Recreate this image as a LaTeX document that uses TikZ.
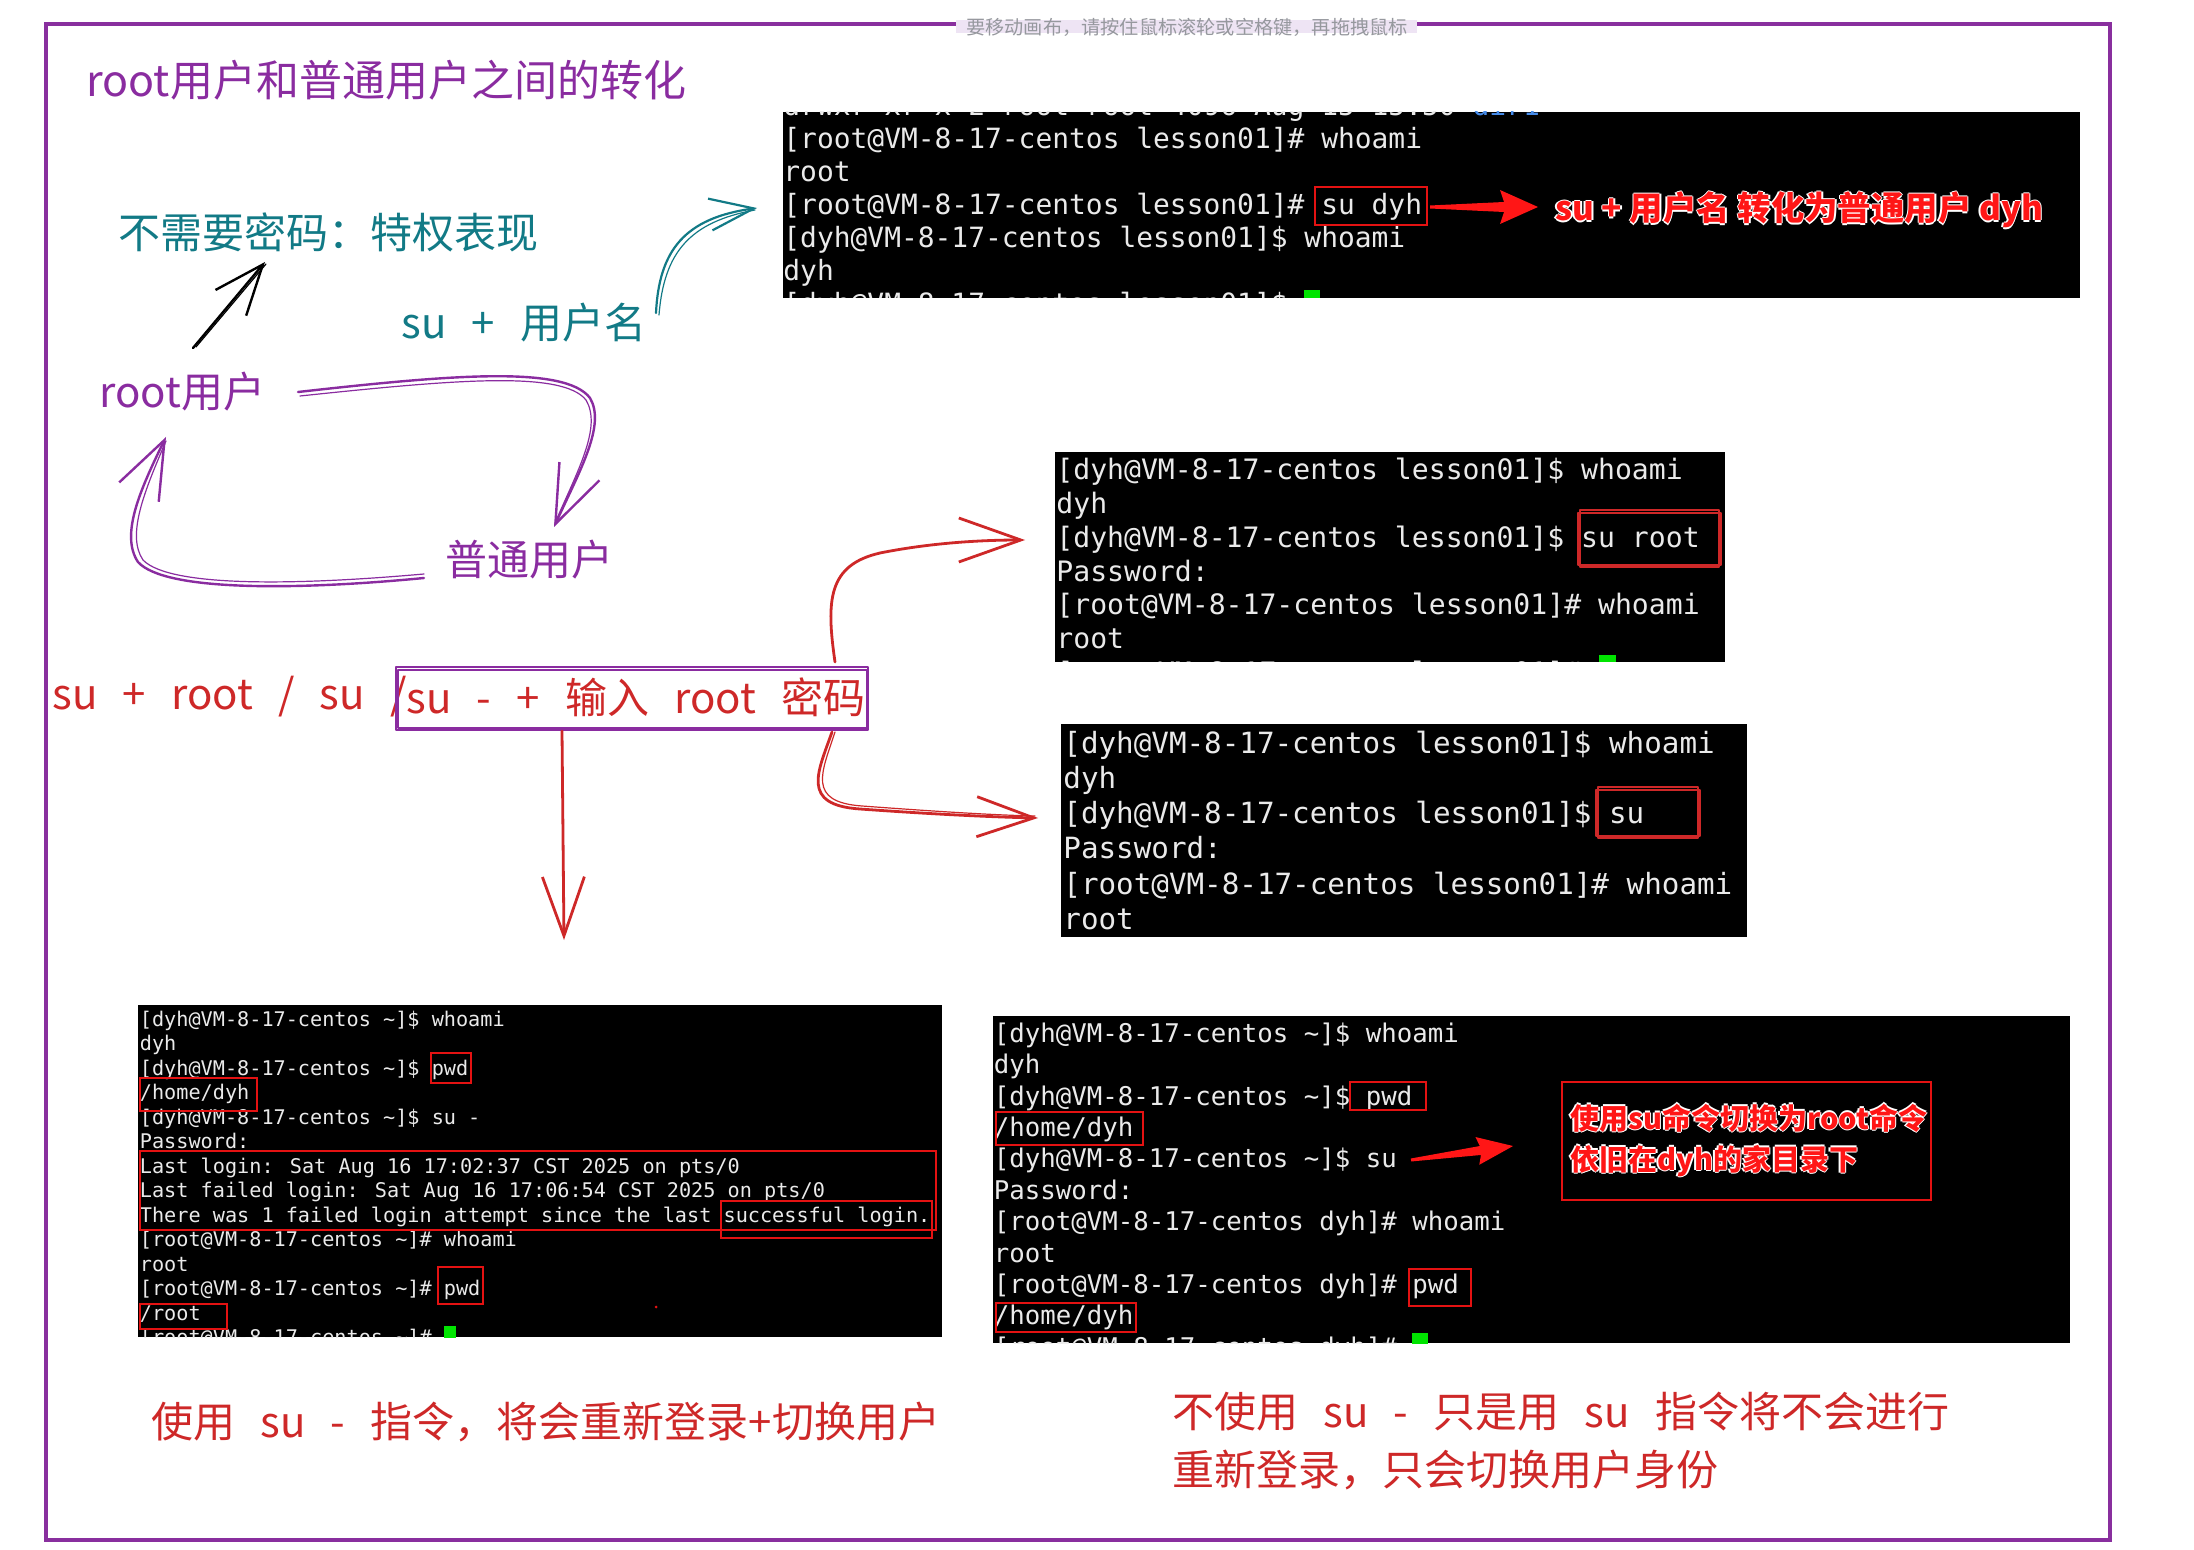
\documentclass[tikz,border=0pt]{standalone}
\usepackage{fontspec}
\usetikzlibrary{arrows.meta,calc}
\newfontfamily\hand{Noto Sans CJK SC}
\newfontfamily\cjk{Noto Sans CJK SC}
\newfontfamily\term{DejaVu Sans Mono}
\definecolor{pur}{RGB}{138,44,160}
\definecolor{framepur}{RGB}{137,47,158}
\definecolor{tealx}{RGB}{18,122,134}
\definecolor{hred}{RGB}{206,40,40}
\definecolor{bred}{RGB}{255,22,22}
\definecolor{boxred}{RGB}{228,18,18}
\definecolor{termfg}{RGB}{234,234,234}
\definecolor{curgreen}{RGB}{0,228,0}
\definecolor{hintgray}{RGB}{150,152,158}
\definecolor{hintbg}{RGB}{238,228,244}
\definecolor{dirblue}{RGB}{70,140,235}
\newcommand\gp{\hspace{0.6em}}
\newcommand\halo[1]{\leavevmode\rlap{\textcolor{white}{\kern-0.8pt#1}}\rlap{\textcolor{white}{\kern0.8pt#1}}\rlap{\textcolor{white}{\raisebox{0.8pt}{#1}}}\rlap{\textcolor{white}{\raisebox{-0.8pt}{#1}}}#1}
\begin{document}
\begin{tikzpicture}[x=0.5pt,y=-0.5pt,
  hw/.style={font={\hand\fontsize{21}{25}\selectfont}, inner sep=0pt, anchor=west},
  tl/.style={anchor=base west, inner sep=0pt, text=termfg},
  fa/.style={tl, font={\term\fontsize{13.96}{16}\selectfont}},
  fb/.style={tl, font={\term\fontsize{14.06}{16}\selectfont}},
  fc/.style={tl, font={\term\fontsize{14.62}{17}\selectfont}},
  fd/.style={tl, font={\term\fontsize{10.1}{12}\selectfont}},
  fe/.style={tl, font={\term\fontsize{12.87}{15}\selectfont}},
  rb/.style={draw=boxred, line width=1pt},
  skr/.style={draw=hred, line width=0.9pt, line cap=round, line join=round},
  pc/.style={draw=pur, line width=1.2pt, line cap=round, line join=round},
  pc2/.style={draw=pur, line width=0.6pt, line cap=round, line join=round},
  rc/.style={draw=hred, line width=1.4pt, line cap=round, line join=round},
]
\useasboundingbox[fill=white] (0,0) rectangle (2194,1550);

% frame
\draw[framepur, line width=2.2pt] (46,24) rectangle (2110,1540);
\fill[hintbg] (956,20) rectangle (1417,33);
\node[inner sep=0pt, text=hintgray, font={\cjk\fontsize{9.6}{11}\selectfont}] (hint) at (1187,27) {要移动画布，请按住鼠标滚轮或空格键，再拖拽鼠标};

% hand-written texts
\node[hw, text=pur, font={\hand\fontsize{21.5}{26}\selectfont}] (title) at (86,80) {root用户和普通用户之间的转化};
\node[hw, text=tealx] (nopw) at (118,232) {不需要密码：特权表现};
\node[hw, text=tealx] (sulbl) at (401,323) {su\gp{}+\gp{}用户名};
\node[hw, text=pur] (rootu) at (99,392) {root用户};
\node[hw, text=pur] (normu) at (445,560) {普通用户};
\node[hw, text=hred] (cmdl) at (52,697) {su\gp{}+\gp{}root\gp{}/\gp{}su\gp{}/};
\node[hw, text=hred] (cmdr) at (406,697) {su\gp{}-\gp{}+\gp{}输入\gp{}root\gp{}密码};
\coordinate (bx1) at (396,667);
\coordinate (bx2) at (868,730);
\draw[pc, line width=1.2pt] (bx1) rectangle (bx2);
\draw[pc2] ([shift={(2,3)}]bx1) rectangle ([shift={(-1,-2)}]bx2);

\node[hw, text=hred] (botl) at (151,1422) {使用\gp{}su\gp{}-\gp{}指令，将会重新登录+切换用户};
\node[hw, text=hred, align=left, font={\hand\fontsize{21}{29}\selectfont}] (botr) at (1172,1441) {不使用\gp{}su\gp{}-\gp{}只是用\gp{}su\gp{}指令将不会进行\\重新登录，只会切换用户身份};

% arrows (hand drawn)
\coordinate (k1) at (193,348);
\coordinate (k2) at (265,262);
\draw[black, line width=1.2pt, line cap=round, -{Straight Barb[length=25pt,width=20pt]}] (k1) -- (k2);
\draw[black, line width=0.6pt, line cap=round] ([shift={(3,-1)}]k1) -- ([shift={(1,2)}]k2);
\coordinate (tq1) at (656,313);
\coordinate (tq2) at (757,208);
\draw[tealx, line width=1.1pt, line cap=round, -{Straight Barb[length=22pt,width=16pt]}] (tq1) .. controls (659,250) and (685,218) .. (tq2);
\draw[tealx, line width=0.6pt, line cap=round] ([shift={(3,2)}]tq1) .. controls (664,252) and (690,222) .. ([shift={(-2,2)}]tq2);
\coordinate (pa1) at (298,392);
\coordinate (pa2) at (554,527);
\draw[pc, -{Straight Barb[length=29pt,width=22pt]}] (pa1) .. controls (450,375) and (565,365) .. (590,398) .. controls (606,425) and (580,470) .. (pa2);
\draw[pc2] ([shift={(2,4)}]pa1) .. controls (452,380) and (562,370) .. (586,400) .. controls (602,427) and (578,470) .. ([shift={(1,-4)}]pa2);
\coordinate (pb1) at (424,578);
\coordinate (pb2) at (166,437);
\draw[pc, -{Straight Barb[length=29pt,width=22pt]}] (pb1) .. controls (300,590) and (165,592) .. (138,562) .. controls (120,535) and (140,490) .. (pb2);
\draw[pc2] ([shift={(0,-4)}]pb1) .. controls (300,585) and (170,588) .. (143,560) .. controls (126,535) and (145,490) .. ([shift={(0,4)}]pb2);
\coordinate (rd1) at (562,731);
\coordinate (rd2) at (564,940);
\draw[rc, -{Straight Barb[length=29.5pt,width=21pt]}] (rd1) -- (rd2);
\coordinate (ru1) at (835,662);
\coordinate (ru2) at (1025,540);
\draw[rc, -{Straight Barb[length=31pt,width=22pt]}] (ru1) .. controls (826,600) and (828,565) .. (880,553) .. controls (930,543) and (980,540) .. (ru2);
\coordinate (rw1) at (832,732);
\coordinate (rw2) at (1038,818);
\draw[rc, -{Straight Barb[length=28.5pt,width=20pt]}] (rw1) .. controls (818,772) and (800,805) .. (860,809) .. controls (930,814) and (990,817) .. (rw2);
\draw[hred, line width=0.6pt, line cap=round] ([shift={(3,0)}]rw1) .. controls (822,772) and (806,802) .. (862,806) .. controls (930,811) and (990,815) .. ([shift={(-3,-2)}]rw2);

% ---------- terminal 1
\coordinate (T1a) at (783,112);
\coordinate (T1b) at (2080,298);
\fill[black] (T1a) rectangle (T1b);
\begin{scope}
\clip (T1a) rectangle (T1b);
\foreach \t [count=\i from 0] in {{drwxr-xr-x 2 root root 4096 Aug 15 15:50 {\color{dirblue}dir1}},{[root@VM-8-17-centos lesson01]\# whoami},{root},{[root@VM-8-17-centos lesson01]\# su dyh},{[dyh@VM-8-17-centos lesson01]\$ whoami},{dyh},{[dyh@VM-8-17-centos lesson01]\$}}
  \node[fa] (ta\i) at (783,116+\i*33) {\t};
\fill[curgreen] (1304,290) rectangle (1320,300);
\end{scope}
\draw[rb] (1315,187) rectangle (1427,225);
\coordinate (ta1s) at (1430,207);
\fill[bred, shift={(ta1s)}] (0,-1.5) -- (74,-5) -- (70,-17) -- (108,0) -- (70,17) -- (74,5) -- (0,1.5) -- cycle;
\node[anchor=west, inner sep=0pt, text=bred, font={\cjk\bfseries\fontsize{16.7}{20}\selectfont}] (annot1) at (1555,210) {\halo{su + 用户名 转化为普通用户 dyh}};

% ---------- terminal 2
\coordinate (T2a) at (1055,452);
\coordinate (T2b) at (1725,662);
\fill[black] (T2a) rectangle (T2b);
\begin{scope}
\clip (T2a) rectangle (T2b);
\foreach \t [count=\i from 0] in {{[dyh@VM-8-17-centos lesson01]\$ whoami},{dyh},{[dyh@VM-8-17-centos lesson01]\$ su root},{Password:},{[root@VM-8-17-centos lesson01]\# whoami},{root},{[root@VM-8-17-centos lesson01]\#}}
  \node[fb] (tb\i) at (1056,479.5+\i*33.85) {\t};
\fill[curgreen] (1599,655) rectangle (1616,665);
\end{scope}
\coordinate (sb1) at (1580,510);
\coordinate (sb2) at (1719,567);
\draw[skr] (sb1) rectangle (sb2);
\draw[skr, line width=0.7pt] ([shift={(-2,3)}]sb1) rectangle ([shift={(2,-2)}]sb2);

% ---------- terminal 3
\coordinate (T3a) at (1061,724);
\coordinate (T3b) at (1747,937);
\fill[black] (T3a) rectangle (T3b);
\begin{scope}
\clip (T3a) rectangle (T3b);
\foreach \t [count=\i from 0] in {{[dyh@VM-8-17-centos lesson01]\$ whoami},{dyh},{[dyh@VM-8-17-centos lesson01]\$ su},{Password:},{[root@VM-8-17-centos lesson01]\# whoami},{root}}
  \node[fc] (tc\i) at (1063,753+\i*35.3) {\t};
\end{scope}
\coordinate (sc1) at (1598,787);
\coordinate (sc2) at (1698,838);
\draw[skr] (sc1) rectangle (sc2);
\draw[skr, line width=0.7pt] ([shift={(-2,3)}]sc1) rectangle ([shift={(2,-2)}]sc2);

% ---------- terminal 4
\coordinate (T4a) at (138,1005);
\coordinate (T4b) at (942,1337);
\fill[black] (T4a) rectangle (T4b);
\begin{scope}
\clip (T4a) rectangle (T4b);
\foreach \t [count=\i from 0] in {{[dyh@VM-8-17-centos \textasciitilde]\$ whoami},{dyh},{[dyh@VM-8-17-centos \textasciitilde]\$ pwd},{/home/dyh},{[dyh@VM-8-17-centos \textasciitilde]\$ su -},{Password:},{Last login: Sat Aug 16 17:02:37 CST 2025 on pts/0},{Last failed login: Sat Aug 16 17:06:54 CST 2025 on pts/0},{There was 1 failed login attempt since the last successful login.},{[root@VM-8-17-centos \textasciitilde]\# whoami},{root},{[root@VM-8-17-centos \textasciitilde]\# pwd},{/root},{[root@VM-8-17-centos \textasciitilde]\#}}
  \node[fd] (td\i) at (139.5,1026.3+\i*24.5) {\t};
\fill[curgreen] (444,1326) rectangle (456,1340);
\end{scope}
\draw[rb] (431,1053) rectangle (471,1083);
\draw[rb] (140,1078) rectangle (257,1111);
\draw[rb] (140,1151) rectangle (936,1230);
\draw[rb] (721,1201) rectangle (932,1238);
\draw[rb] (438,1267) rectangle (483,1304);
\draw[rb] (140,1304) rectangle (227,1329);
\fill[boxred] (656,1307) circle (1.5);

% ---------- terminal 5
\coordinate (T5a) at (993,1016);
\coordinate (T5b) at (2070,1343);
\fill[black] (T5a) rectangle (T5b);
\begin{scope}
\clip (T5a) rectangle (T5b);
\foreach \t [count=\i from 0] in {{[dyh@VM-8-17-centos \textasciitilde]\$ whoami},{dyh},{[dyh@VM-8-17-centos \textasciitilde]\$ pwd},{/home/dyh},{[dyh@VM-8-17-centos \textasciitilde]\$ su},{Password:},{[root@VM-8-17-centos dyh]\# whoami},{root},{[root@VM-8-17-centos dyh]\# pwd},{/home/dyh},{[root@VM-8-17-centos dyh]\#}}
  \node[fe] (te\i) at (993.5,1042.3+\i*31.4) {\t};
\fill[curgreen] (1412,1333) rectangle (1428,1350);
\end{scope}
\draw[rb] (1350,1082) rectangle (1426,1110);
\draw[rb] (996,1112) rectangle (1143,1145);
\draw[rb] (1409,1269) rectangle (1471,1306);
\draw[rb] (996,1303) rectangle (1136,1332);
\coordinate (tb5s) at (1411,1160);
\fill[bred, shift={(tb5s)}, rotate=7.8] (0,-1.5) -- (70,-4.5) -- (67,-14) -- (103,0) -- (67,14) -- (70,4.5) -- (0,1.5) -- cycle;
\coordinate (an1) at (1562,1082);
\coordinate (an2) at (1931,1200);
\draw[boxred, line width=1.2pt] (an1) rectangle (an2);
\node[anchor=west, inner sep=0pt, align=left, text=bred, font={\cjk\bfseries\fontsize{14.5}{20.5}\selectfont}] (annot2) at (1570,1140) {\halo{使用su命令切换为root命令}\\\halo{依旧在dyh的家目录下}};
\end{tikzpicture}
\end{document}
